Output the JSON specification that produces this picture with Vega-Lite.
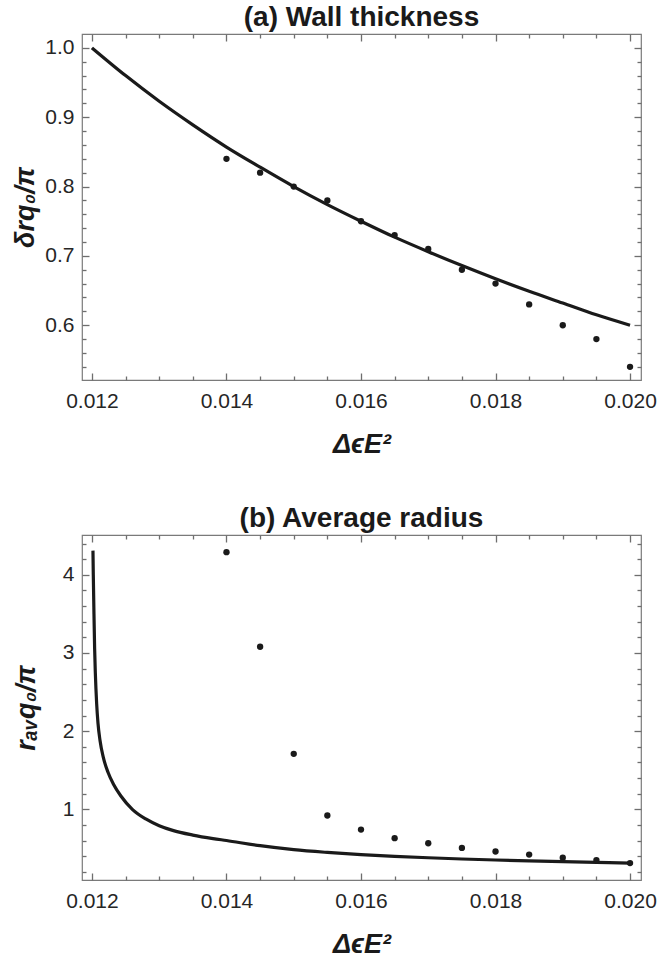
{
  "$schema": "https://vega.github.io/schema/vega-lite/v6.json",
  "padding": {"left": 11, "top": 3, "right": 0, "bottom": 0},
  "background": "white",
  "datasets": {
    "curveA": [
      {"x": 0.012, "y": 1.0}, {"x": 0.0125, "y": 0.96}, {"x": 0.013, "y": 0.923}, {"x": 0.0135, "y": 0.889},
      {"x": 0.014, "y": 0.857}, {"x": 0.0145, "y": 0.828}, {"x": 0.015, "y": 0.8}, {"x": 0.0155, "y": 0.774},
      {"x": 0.016, "y": 0.75}, {"x": 0.0165, "y": 0.727}, {"x": 0.017, "y": 0.706}, {"x": 0.0175, "y": 0.686},
      {"x": 0.018, "y": 0.667}, {"x": 0.0185, "y": 0.649}, {"x": 0.019, "y": 0.632}, {"x": 0.0195, "y": 0.615},
      {"x": 0.02, "y": 0.6}
    ],
    "dotsA": [
      {"x": 0.014, "y": 0.84}, {"x": 0.0145, "y": 0.82}, {"x": 0.015, "y": 0.8}, {"x": 0.0155, "y": 0.78},
      {"x": 0.016, "y": 0.75}, {"x": 0.0165, "y": 0.73}, {"x": 0.017, "y": 0.71}, {"x": 0.0175, "y": 0.68},
      {"x": 0.018, "y": 0.66}, {"x": 0.0185, "y": 0.63}, {"x": 0.019, "y": 0.6}, {"x": 0.0195, "y": 0.58},
      {"x": 0.02, "y": 0.54}
    ],
    "curveB": [
      {"x": 0.012015, "y": 4.31}, {"x": 0.01202, "y": 4.0}, {"x": 0.01203, "y": 3.5}, {"x": 0.01204, "y": 3.05},
      {"x": 0.01205, "y": 2.75}, {"x": 0.01207, "y": 2.35}, {"x": 0.01209, "y": 2.1}, {"x": 0.01212, "y": 1.88},
      {"x": 0.01217, "y": 1.66}, {"x": 0.01224, "y": 1.47}, {"x": 0.01232, "y": 1.32}, {"x": 0.01243, "y": 1.17},
      {"x": 0.0126, "y": 1.0}, {"x": 0.0128, "y": 0.876}, {"x": 0.013, "y": 0.79}, {"x": 0.0132, "y": 0.73},
      {"x": 0.0135, "y": 0.67}, {"x": 0.0138, "y": 0.625}, {"x": 0.014, "y": 0.6}, {"x": 0.0145, "y": 0.534},
      {"x": 0.015, "y": 0.483}, {"x": 0.0155, "y": 0.448}, {"x": 0.016, "y": 0.42}, {"x": 0.0165, "y": 0.398},
      {"x": 0.017, "y": 0.38}, {"x": 0.0175, "y": 0.364}, {"x": 0.018, "y": 0.351}, {"x": 0.0185, "y": 0.34},
      {"x": 0.019, "y": 0.329}, {"x": 0.0195, "y": 0.32}, {"x": 0.02, "y": 0.312}
    ],
    "dotsB": [
      {"x": 0.014, "y": 4.29}, {"x": 0.0145, "y": 3.08}, {"x": 0.015, "y": 1.71}, {"x": 0.0155, "y": 0.92},
      {"x": 0.016, "y": 0.74}, {"x": 0.0165, "y": 0.63}, {"x": 0.017, "y": 0.565}, {"x": 0.0175, "y": 0.505},
      {"x": 0.018, "y": 0.46}, {"x": 0.0185, "y": 0.42}, {"x": 0.019, "y": 0.38}, {"x": 0.0195, "y": 0.35},
      {"x": 0.02, "y": 0.312}
    ]
  },
  "config": {
    "view": {"stroke": "#7a7a7a", "strokeWidth": 1.2},
    "axis": {
      "grid": false, "domain": false,
      "labelFont": "Liberation Sans", "labelFontSize": 21, "labelColor": "#262626",
      "titleFont": "Liberation Sans", "titleFontSize": 27, "titleFontWeight": "bold", "titleFontStyle": "italic", "titleColor": "#1a1a1a",
      "tickColor": "#6e6e6e", "tickWidth": 1.3, "zindex": 1
    },
    "title": {"font": "Liberation Sans", "fontSize": 28, "fontWeight": "bold", "color": "#1a1a1a", "anchor": "middle", "offset": 1}
  },
  "spacing": 46,
  "vconcat": [
    {
      "width": 559, "height": 346,
      "title": "(a) Wall thickness",
      "resolve": {"axis": {"x": "independent", "y": "independent"}},
      "layer": [
        {
          "data": {"name": "curveA"},
          "mark": {"type": "line", "color": "#1a1a1a", "strokeWidth": 3.2, "interpolate": "monotone", "clip": true},
          "encoding": {
            "x": {"field": "x", "type": "quantitative", "scale": {"domain": [0.011852, 0.020163], "nice": false, "zero": false},
                  "axis": {"orient": "bottom", "values": [0.012, 0.014, 0.016, 0.018, 0.02], "format": ".3f", "ticks": false, "labelPadding": 10, "title": "ΔϵE²", "titlePadding": 20}},
            "y": {"field": "y", "type": "quantitative", "scale": {"domain": [0.521, 1.02], "nice": false, "zero": false},
                  "axis": {"orient": "left", "values": [0.6, 0.7, 0.8, 0.9, 1.0], "format": ".1f", "ticks": false, "labelPadding": 8, "title": "δrq₀/π", "titlePadding": 5}}
          }
        },
        {
          "data": {"name": "dotsA"},
          "mark": {"type": "circle", "color": "#1a1a1a", "size": 40, "opacity": 1},
          "encoding": {
            "x": {"field": "x", "type": "quantitative", "axis": {"orient": "bottom", "values": [0.012, 0.014, 0.016, 0.018, 0.02], "labels": false, "tickSize": 7, "offset": -7, "title": null}},
            "y": {"field": "y", "type": "quantitative", "axis": {"orient": "left", "values": [0.6, 0.7, 0.8, 0.9, 1.0], "labels": false, "tickSize": 7, "offset": -7, "title": null}}
          }
        },
        {
          "data": {"name": "dotsA"},
          "mark": {"type": "circle", "opacity": 0},
          "encoding": {
            "x": {"field": "x", "type": "quantitative", "axis": {"orient": "bottom", "values": [0.0125, 0.013, 0.0135, 0.0145, 0.015, 0.0155, 0.0165, 0.017, 0.0175, 0.0185, 0.019, 0.0195], "labels": false, "tickSize": 4, "offset": -4, "title": null}},
            "y": {"field": "y", "type": "quantitative", "axis": {"orient": "left", "values": [0.54, 0.56, 0.58, 0.62, 0.64, 0.66, 0.68, 0.72, 0.74, 0.76, 0.78, 0.82, 0.84, 0.86, 0.88, 0.92, 0.94, 0.96, 0.98], "labels": false, "tickSize": 4, "offset": -4, "title": null}}
          }
        },
        {
          "data": {"name": "dotsA"},
          "mark": {"type": "circle", "opacity": 0},
          "encoding": {
            "x": {"field": "x", "type": "quantitative", "axis": {"orient": "top", "values": [0.012, 0.014, 0.016, 0.018, 0.02], "labels": false, "tickSize": 7, "offset": -7, "title": null}},
            "y": {"field": "y", "type": "quantitative", "axis": {"orient": "right", "values": [0.6, 0.7, 0.8, 0.9, 1.0], "labels": false, "tickSize": 7, "offset": -7, "title": null}}
          }
        },
        {
          "data": {"name": "dotsA"},
          "mark": {"type": "circle", "opacity": 0},
          "encoding": {
            "x": {"field": "x", "type": "quantitative", "axis": {"orient": "top", "values": [0.0125, 0.013, 0.0135, 0.0145, 0.015, 0.0155, 0.0165, 0.017, 0.0175, 0.0185, 0.019, 0.0195], "labels": false, "tickSize": 4, "offset": -4, "title": null}},
            "y": {"field": "y", "type": "quantitative", "axis": {"orient": "right", "values": [0.54, 0.56, 0.58, 0.62, 0.64, 0.66, 0.68, 0.72, 0.74, 0.76, 0.78, 0.82, 0.84, 0.86, 0.88, 0.92, 0.94, 0.96, 0.98], "labels": false, "tickSize": 4, "offset": -4, "title": null}}
          }
        }
      ]
    },
    {
      "width": 559, "height": 345,
      "title": "(b) Average radius",
      "resolve": {"axis": {"x": "independent", "y": "independent"}},
      "layer": [
        {
          "data": {"name": "curveB"},
          "mark": {"type": "line", "color": "#1a1a1a", "strokeWidth": 3.2, "interpolate": "monotone", "clip": true},
          "encoding": {
            "x": {"field": "x", "type": "quantitative", "scale": {"domain": [0.011852, 0.020163], "nice": false, "zero": false},
                  "axis": {"orient": "bottom", "values": [0.012, 0.014, 0.016, 0.018, 0.02], "format": ".3f", "ticks": false, "labelPadding": 10, "title": "ΔϵE²", "titlePadding": 20}},
            "y": {"field": "y", "type": "quantitative", "scale": {"domain": [0.095, 4.51], "nice": false, "zero": false},
                  "axis": {"orient": "left", "values": [1, 2, 3, 4], "format": "d", "ticks": false, "labelPadding": 8, "title": "rₐᵥq₀/π", "titlePadding": 22}}
          }
        },
        {
          "data": {"name": "dotsB"},
          "mark": {"type": "circle", "color": "#1a1a1a", "size": 40, "opacity": 1},
          "encoding": {
            "x": {"field": "x", "type": "quantitative", "axis": {"orient": "bottom", "values": [0.012, 0.014, 0.016, 0.018, 0.02], "labels": false, "tickSize": 7, "offset": -7, "title": null}},
            "y": {"field": "y", "type": "quantitative", "axis": {"orient": "left", "values": [1, 2, 3, 4], "labels": false, "tickSize": 7, "offset": -7, "title": null}}
          }
        },
        {
          "data": {"name": "dotsB"},
          "mark": {"type": "circle", "opacity": 0},
          "encoding": {
            "x": {"field": "x", "type": "quantitative", "axis": {"orient": "bottom", "values": [0.0125, 0.013, 0.0135, 0.0145, 0.015, 0.0155, 0.0165, 0.017, 0.0175, 0.0185, 0.019, 0.0195], "labels": false, "tickSize": 4, "offset": -4, "title": null}},
            "y": {"field": "y", "type": "quantitative", "axis": {"orient": "left", "values": [0.2, 0.4, 0.6, 0.8, 1.2, 1.4, 1.6, 1.8, 2.2, 2.4, 2.6, 2.8, 3.2, 3.4, 3.6, 3.8, 4.2, 4.4], "labels": false, "tickSize": 4, "offset": -4, "title": null}}
          }
        },
        {
          "data": {"name": "dotsB"},
          "mark": {"type": "circle", "opacity": 0},
          "encoding": {
            "x": {"field": "x", "type": "quantitative", "axis": {"orient": "top", "values": [0.012, 0.014, 0.016, 0.018, 0.02], "labels": false, "tickSize": 7, "offset": -7, "title": null}},
            "y": {"field": "y", "type": "quantitative", "axis": {"orient": "right", "values": [1, 2, 3, 4], "labels": false, "tickSize": 7, "offset": -7, "title": null}}
          }
        },
        {
          "data": {"name": "dotsB"},
          "mark": {"type": "circle", "opacity": 0},
          "encoding": {
            "x": {"field": "x", "type": "quantitative", "axis": {"orient": "top", "values": [0.0125, 0.013, 0.0135, 0.0145, 0.015, 0.0155, 0.0165, 0.017, 0.0175, 0.0185, 0.019, 0.0195], "labels": false, "tickSize": 4, "offset": -4, "title": null}},
            "y": {"field": "y", "type": "quantitative", "axis": {"orient": "right", "values": [0.2, 0.4, 0.6, 0.8, 1.2, 1.4, 1.6, 1.8, 2.2, 2.4, 2.6, 2.8, 3.2, 3.4, 3.6, 3.8, 4.2, 4.4], "labels": false, "tickSize": 4, "offset": -4, "title": null}}
          }
        }
      ]
    }
  ]
}
